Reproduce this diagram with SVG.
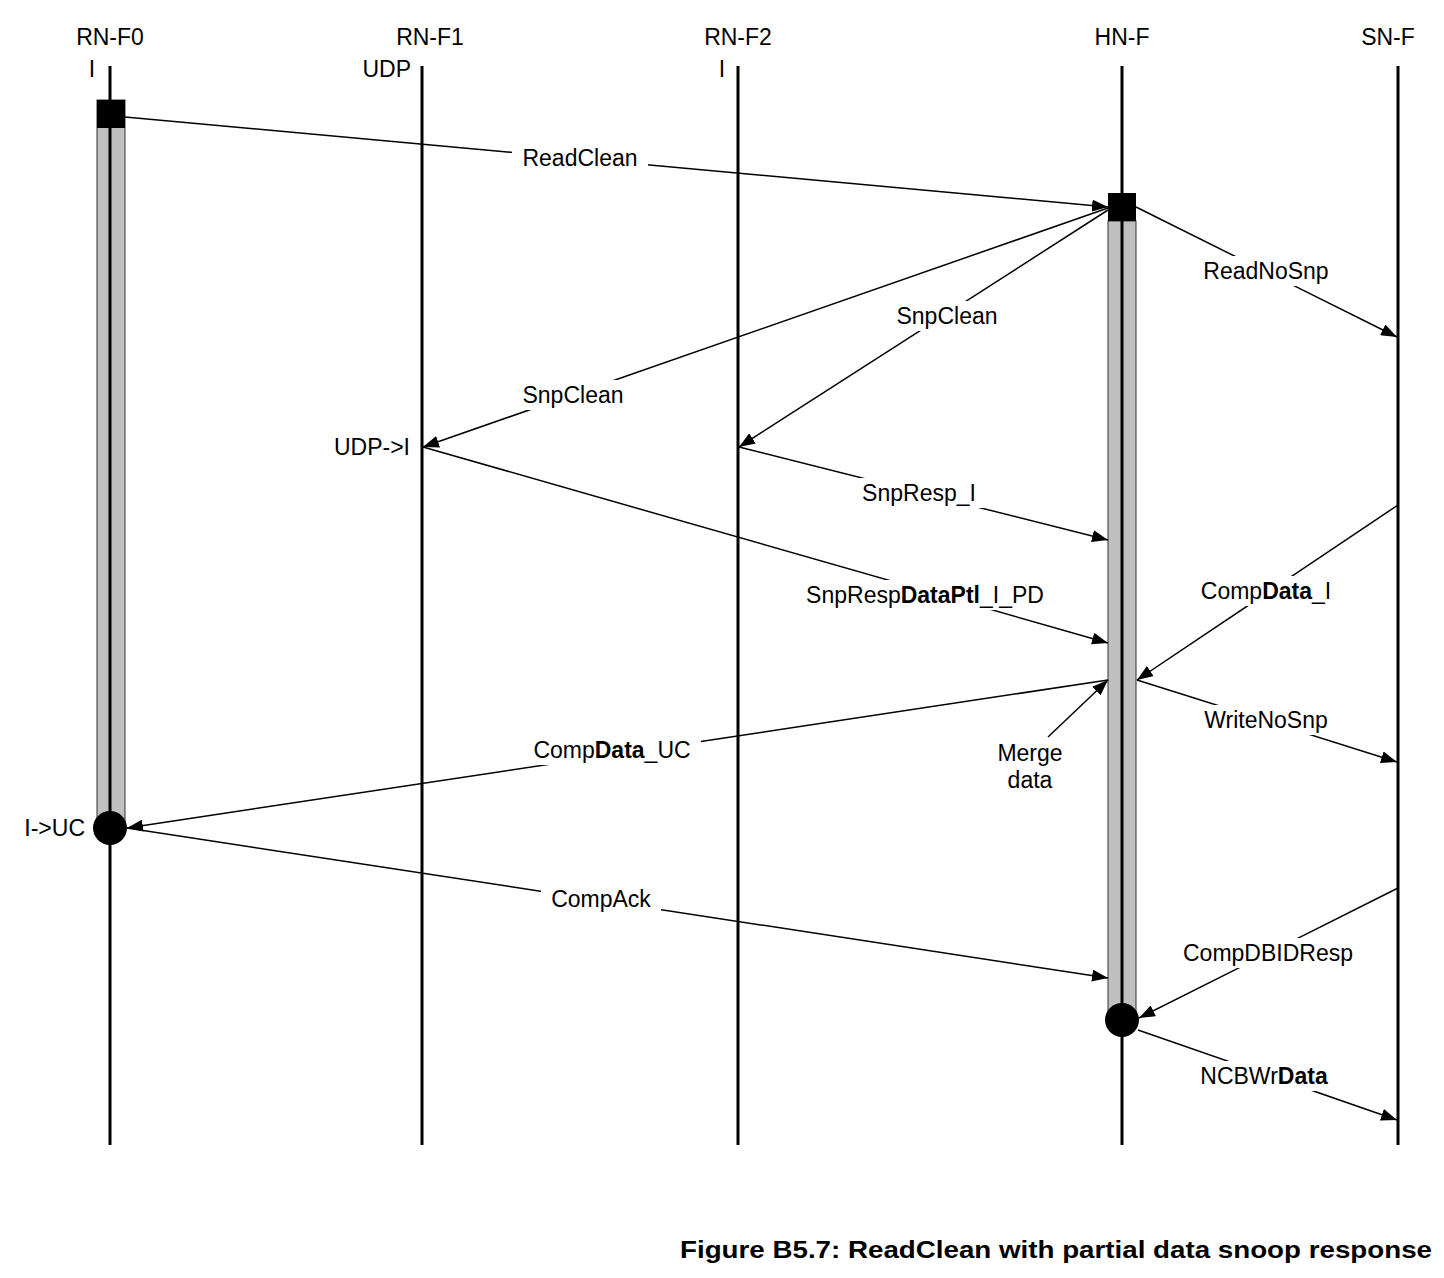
<svg xmlns="http://www.w3.org/2000/svg" width="1444" height="1278" viewBox="0 0 1444 1278">
<style>
text{font-family:"Liberation Sans",Arial,sans-serif;font-size:23px;fill:#000}
.life{stroke:#000;stroke-width:3;fill:none}
.bar{fill:#c0c0c0;stroke:#333;stroke-width:1}
.msg{stroke:#000;stroke-width:1.5;fill:none;marker-end:url(#ah)}
.gap{fill:#fff;stroke:none}
.c{text-anchor:middle}
.r{text-anchor:end}
.b{font-weight:bold}
</style>
<defs>
<marker id="ah" markerUnits="userSpaceOnUse" markerWidth="17" markerHeight="12" refX="16" refY="6" orient="auto">
<path d="M0,0 L16,6 L0,12 z" fill="#000"/>
</marker>
</defs>
<rect width="1444" height="1278" fill="#fff"/>

<g id="RN-F0">
<text class="c" x="110" y="45">RN-F0</text>
<text class="c" x="92" y="77">I</text>
<rect class="bar" x="97" y="100" width="28" height="728"/>
<line class="life" x1="110" y1="66" x2="110" y2="1145"/>
<rect x="97" y="100" width="28" height="28" fill="#000"/>
<circle cx="110" cy="828" r="17" fill="#000"/>
<text class="r" x="85" y="836">I-&gt;UC</text>
</g>

<g id="RN-F1">
<text class="c" x="430" y="45">RN-F1</text>
<text class="r" x="411" y="77">UDP</text>
<line class="life" x1="422" y1="66" x2="422" y2="1145"/>
<text class="r" x="410" y="455">UDP-&gt;I</text>
</g>

<g id="RN-F2">
<text class="c" x="738" y="45">RN-F2</text>
<text class="c" x="722" y="77">I</text>
<line class="life" x1="738" y1="66" x2="738" y2="1145"/>
</g>

<g id="HN-F">
<text class="c" x="1122" y="45">HN-F</text>
<rect class="bar" x="1108" y="221" width="28" height="799"/>
<line class="life" x1="1122" y1="66" x2="1122" y2="1145"/>
<rect x="1108" y="193" width="28" height="28" fill="#000"/>
<circle cx="1122" cy="1020" r="17" fill="#000"/>
</g>

<g id="SN-F">
<text class="c" x="1388" y="45">SN-F</text>
<line class="life" x1="1398" y1="66" x2="1398" y2="1145"/>
</g>

<g id="connectors">
<line class="msg" x1="125" y1="117" x2="1108" y2="207"/>
<line class="msg" x1="1108" y1="208" x2="423" y2="447"/>
<line class="msg" x1="1108" y1="210" x2="739" y2="447"/>
<line class="msg" x1="1136" y1="207" x2="1397" y2="337"/>
<line class="msg" x1="739" y1="447" x2="1108" y2="540"/>
<line class="msg" x1="423" y1="447" x2="1108" y2="643"/>
<line class="msg" x1="1398" y1="505" x2="1137" y2="680"/>
<line class="msg" x1="1137" y1="680" x2="1397" y2="762"/>
<line class="msg" x1="1108" y1="680" x2="127" y2="828"/>
<line class="msg" x1="1048" y1="737" x2="1108" y2="680"/>
<line class="msg" x1="127" y1="828" x2="1108" y2="978"/>
<line class="msg" x1="1398" y1="888" x2="1139" y2="1018"/>
<line class="msg" x1="1138" y1="1030" x2="1397" y2="1120"/>
</g>

<g id="labels">
<rect class="gap" x="512" y="143" width="136" height="30"/>
<text class="c" x="580" y="166">ReadClean</text>

<rect class="gap" x="512" y="380" width="122" height="30"/>
<text class="c" x="573" y="403">SnpClean</text>

<rect class="gap" x="886" y="301" width="122" height="30"/>
<text class="c" x="947" y="324">SnpClean</text>

<rect class="gap" x="1193" y="256" width="146" height="30"/>
<text class="c" x="1266" y="279">ReadNoSnp</text>

<rect class="gap" x="852" y="478" width="134" height="30"/>
<text class="c" x="919" y="501">SnpResp_I</text>

<rect class="gap" x="797" y="580" width="256" height="30"/>
<text class="c" x="925" y="603">SnpResp<tspan class="b">DataPtl</tspan>_I_PD</text>

<rect class="gap" x="1191" y="576" width="150" height="30"/>
<text class="c" x="1266" y="599">Comp<tspan class="b">Data</tspan>_I</text>

<rect class="gap" x="1194" y="705" width="144" height="30"/>
<text class="c" x="1266" y="728">WriteNoSnp</text>

<rect class="gap" x="523" y="735" width="178" height="30"/>
<text class="c" x="612" y="758">Comp<tspan class="b">Data</tspan>_UC</text>

<text class="c" x="1030" y="761">Merge</text>
<text class="c" x="1030" y="788">data</text>

<rect class="gap" x="541" y="884" width="120" height="30"/>
<text class="c" x="601" y="907">CompAck</text>

<rect class="gap" x="1174" y="938" width="188" height="30"/>
<text class="c" x="1268" y="961">CompDBIDResp</text>

<rect class="gap" x="1191" y="1061" width="146" height="30"/>
<text class="c" x="1264" y="1084">NCBWr<tspan class="b">Data</tspan></text>
</g>

<text class="b" x="680" y="1258" font-size="30" textLength="752" lengthAdjust="spacingAndGlyphs">Figure B5.7: ReadClean with partial data snoop response</text>
</svg>
